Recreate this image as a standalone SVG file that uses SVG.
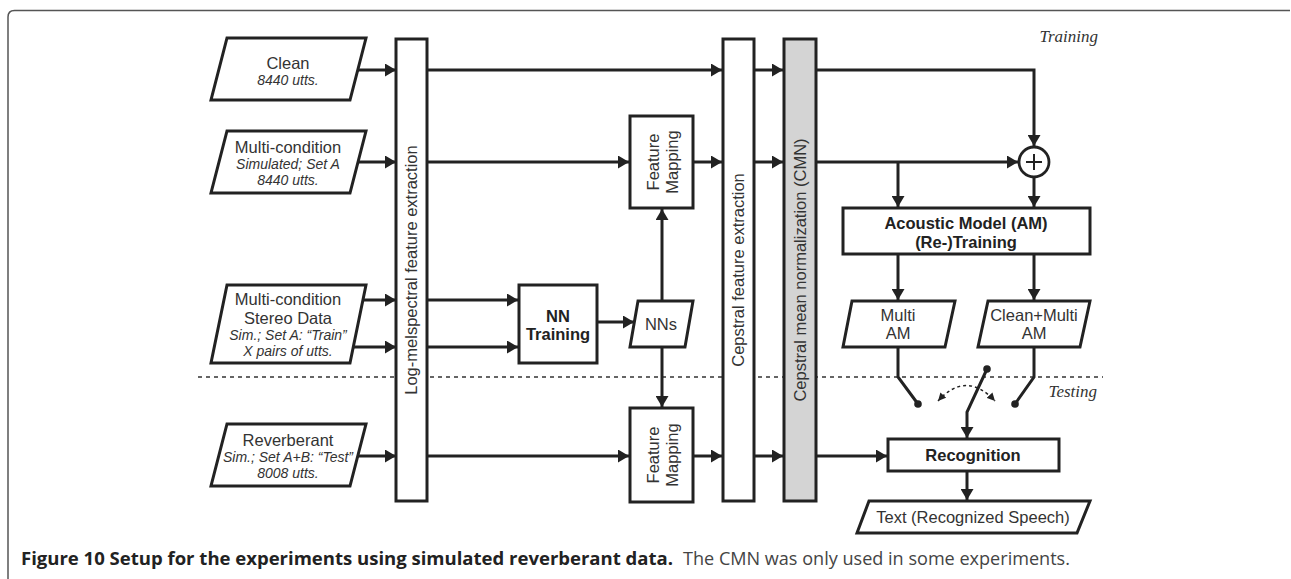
<svg xmlns="http://www.w3.org/2000/svg" width="1291" height="579" viewBox="0 0 1291 579">
<style>
.box{fill:#fff;stroke:#222;stroke-width:3}
.gray{fill:#d4d4d4;stroke:#222;stroke-width:3}
.ln{fill:none;stroke:#222;stroke-width:3}
.arr{fill:none;stroke:#222;stroke-width:3;marker-end:url(#ah)}
.t{font-family:"Liberation Sans",Arial,sans-serif;font-size:16.5px;fill:#333;text-anchor:middle}
.i{font-family:"Liberation Sans",Arial,sans-serif;font-size:14px;font-style:italic;fill:#333;text-anchor:middle}
.b{font-family:"Liberation Sans",Arial,sans-serif;font-size:16.5px;font-weight:bold;fill:#222;text-anchor:middle}
.s{font-family:"Liberation Serif","Times New Roman",serif;font-size:17px;font-style:italic;fill:#333;text-anchor:end}
.dot{fill:#222}
</style>
<defs>
<marker id="ah" viewBox="0 0 11 13" refX="11" refY="6.5" markerWidth="11" markerHeight="13" markerUnits="userSpaceOnUse" orient="auto">
<path d="M0,0 L11,6.5 L0,13 z" fill="#222"/>
</marker>
<marker id="sa" viewBox="0 0 8 8" refX="8" refY="4" markerWidth="8" markerHeight="8" markerUnits="userSpaceOnUse" orient="auto">
<path d="M0,0 L8,4 L0,8 z" fill="#222"/>
</marker>
<marker id="sb" viewBox="0 0 8 8" refX="0" refY="4" markerWidth="8" markerHeight="8" markerUnits="userSpaceOnUse" orient="auto">
<path d="M8,0 L0,4 L8,8 z" fill="#222"/>
</marker>
</defs>
<rect width="1291" height="579" fill="#fff"/>
<path d="M8,579 V17 Q8,10.5 14.5,10.5 H1290" fill="none" stroke="#555" stroke-width="1.5"/>

<line x1="198" y1="377" x2="1103" y2="377" stroke="#333" stroke-width="1.5" stroke-dasharray="4,4"/>
<text class="s" x="1098" y="42">Training</text>
<text class="s" x="1097" y="397">Testing</text>

<g id="clean">
<polygon class="box" points="227,38 366,38 350,100 211,100"/>
<text class="t" x="288" y="69">Clean</text>
<text class="i" x="288" y="85">8440 utts.</text>
</g>
<g id="multi">
<polygon class="box" points="227,131 366,131 350,193 211,193"/>
<text class="t" x="288" y="153">Multi-condition</text>
<text class="i" x="288" y="169">Simulated; Set A</text>
<text class="i" x="288" y="185">8440 utts.</text>
</g>
<g id="stereo">
<polygon class="box" points="227,285 366,285 350,363 211,363"/>
<text class="t" x="288" y="305">Multi-condition</text>
<text class="t" x="288" y="324">Stereo Data</text>
<text class="i" x="288" y="340">Sim.; Set A: “Train”</text>
<text class="i" x="288" y="356">X pairs of utts.</text>
</g>
<g id="reverb">
<polygon class="box" points="227,424 366,424 350,486 211,486"/>
<text class="t" x="288" y="446">Reverberant</text>
<text class="i" x="288" y="462">Sim.; Set A+B: “Test”</text>
<text class="i" x="288" y="478">8008 utts.</text>
</g>
<g id="logmel">
<rect class="box" x="396" y="39" width="31" height="462"/>
<text class="t" transform="translate(417,270) rotate(-90)">Log-melspectral feature extraction</text>
</g>
<g id="fm1">
<rect class="box" x="630" y="116" width="63" height="92"/>
<text class="t" transform="translate(659,162) rotate(-90)">Feature</text>
<text class="t" transform="translate(678,162) rotate(-90)">Mapping</text>
</g>
<g id="fm2">
<rect class="box" x="630" y="408" width="63" height="94"/>
<text class="t" transform="translate(659,455) rotate(-90)">Feature</text>
<text class="t" transform="translate(678,455) rotate(-90)">Mapping</text>
</g>
<g id="nntrain">
<rect class="box" x="519" y="285" width="78" height="78"/>
<text class="b" x="558" y="322">NN</text>
<text class="b" x="558" y="340">Training</text>
</g>
<g id="nns">
<polygon class="box" points="638,301 693,301 685,347 630,347"/>
<text class="t" x="661" y="330">NNs</text>
</g>
<g id="cepstral">
<rect class="box" x="723" y="39" width="31" height="462"/>
<text class="t" transform="translate(744,270) rotate(-90)">Cepstral feature extraction</text>
</g>
<g id="cmn">
<rect class="gray" x="784" y="39" width="32" height="462"/>
<text class="t" transform="translate(806,270) rotate(-90)">Cepstral mean normalization (CMN)</text>
</g>
<g id="plus">
<circle cx="1034" cy="162" r="15" fill="#fff" stroke="#222" stroke-width="2.8"/>
<path d="M1026,162 H1042 M1034,154 V170" stroke="#222" stroke-width="2"/>
</g>
<g id="am">
<rect class="box" x="843" y="208" width="247" height="46"/>
<text class="b" x="966" y="229">Acoustic Model (AM)</text>
<text class="b" x="966" y="248">(Re-)Training</text>
</g>
<g id="multiam">
<polygon class="box" points="852,301 955,301 945,347 843,347"/>
<text class="t" x="898" y="321">Multi</text>
<text class="t" x="898" y="339">AM</text>
</g>
<g id="cleanmultiam">
<polygon class="box" points="988,301 1090,301 1080,347 978,347"/>
<text class="t" x="1034" y="321">Clean+Multi</text>
<text class="t" x="1034" y="339">AM</text>
</g>
<g id="recog">
<rect class="box" x="888" y="439" width="171" height="32"/>
<text class="b" x="973" y="461">Recognition</text>
</g>
<g id="textout">
<polygon class="box" points="869,501 1090,501 1077,533 857,533"/>
<text class="t" x="973" y="523">Text (Recognized Speech)</text>
</g>

<g id="connectors">
<line class="arr" x1="358" y1="70" x2="396" y2="70"/>
<line class="arr" x1="358" y1="162" x2="396" y2="162"/>
<line class="arr" x1="363" y1="300" x2="396" y2="300"/>
<line class="arr" x1="353" y1="347" x2="396" y2="347"/>
<line class="arr" x1="358" y1="456" x2="396" y2="456"/>
<line class="arr" x1="427" y1="70" x2="722" y2="70"/>
<line class="arr" x1="427" y1="162" x2="629" y2="162"/>
<line class="arr" x1="427" y1="300" x2="518" y2="300"/>
<line class="arr" x1="427" y1="347" x2="518" y2="347"/>
<line class="arr" x1="427" y1="456" x2="629" y2="456"/>
<line class="arr" x1="693" y1="162" x2="722" y2="162"/>
<line class="arr" x1="693" y1="456" x2="722" y2="456"/>
<line class="arr" x1="754" y1="70" x2="783" y2="70"/>
<line class="arr" x1="754" y1="162" x2="783" y2="162"/>
<line class="arr" x1="754" y1="456" x2="783" y2="456"/>
<line class="arr" x1="597" y1="322" x2="634" y2="322"/>
<line class="arr" x1="662" y1="301" x2="662" y2="209"/>
<line class="arr" x1="662" y1="347" x2="662" y2="407"/>
<polyline class="arr" points="816,70 1034,70 1034,146"/>
<line class="arr" x1="816" y1="162" x2="1018" y2="162"/>
<polyline class="arr" points="898,162 898,207"/>
<line class="arr" x1="1034" y1="177" x2="1034" y2="207"/>
<line class="arr" x1="898" y1="254" x2="898" y2="300"/>
<line class="arr" x1="1034" y1="254" x2="1034" y2="300"/>
<polyline class="ln" points="898,347 898,377 918,404"/>
<circle class="dot" cx="918" cy="404" r="3.8"/>
<polyline class="ln" points="1034,347 1034,377 1015,404"/>
<circle class="dot" cx="1015" cy="404" r="3.8"/>
<circle class="dot" cx="987" cy="369" r="3.8"/>
<polyline class="arr" points="987,369 967,412 967,438"/>
<path d="M938,401 Q966,370 995,401" fill="none" stroke="#222" stroke-width="1.5" stroke-dasharray="3,3" marker-start="url(#sb)" marker-end="url(#sa)"/>
<line class="arr" x1="816" y1="456" x2="887" y2="456"/>
<line class="arr" x1="967" y1="471" x2="967" y2="500"/>
</g>

<text x="21" y="565" font-family="'Open Sans','Liberation Sans',sans-serif" font-size="17.5" font-weight="bold" fill="#222" textLength="652" lengthAdjust="spacingAndGlyphs">Figure 10 Setup for the experiments using simulated reverberant data.</text>
<text x="683" y="565" font-family="'Open Sans','Liberation Sans',sans-serif" font-size="17.5" fill="#444" textLength="387" lengthAdjust="spacingAndGlyphs">The CMN was only used in some experiments.</text>
</svg>
